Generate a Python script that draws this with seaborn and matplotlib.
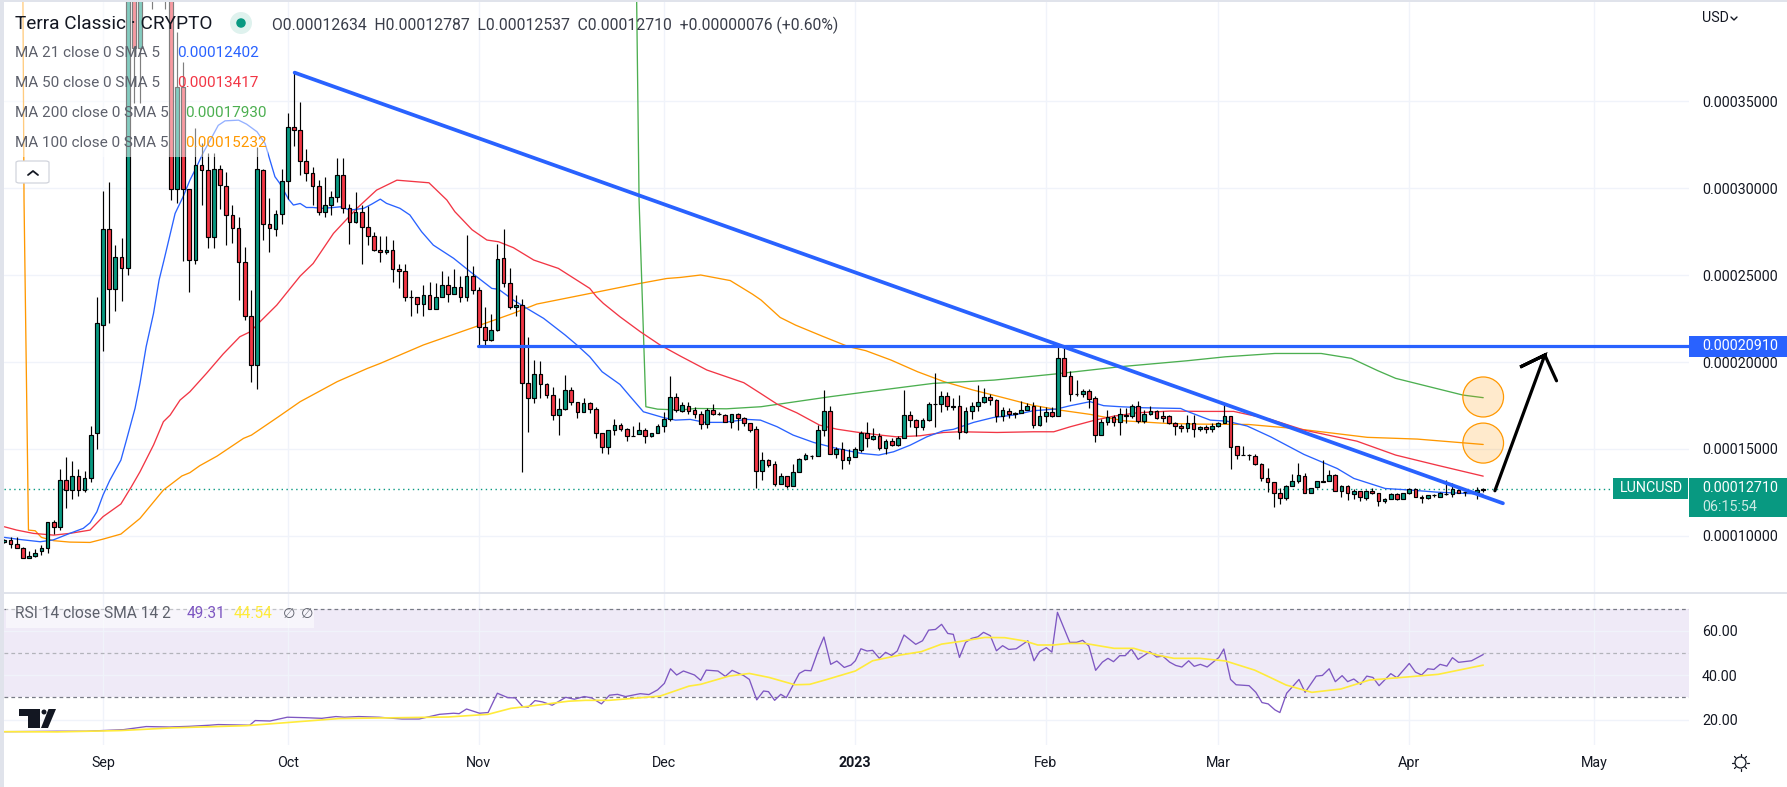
import numpy as np
import matplotlib
matplotlib.use('Agg')
import matplotlib.pyplot as plt
from matplotlib.patches import Rectangle, Ellipse, Polygon, FancyBboxPatch
from matplotlib.lines import Line2D
import seaborn as sns

# prices are in units of 0.00001, days are counted from 1 Sep 2022
first_day = -16

opens = [9.67,9.79,9.52,9.29,8.71,8.83,9.11,9.29,10.78,10.49,13.20,12.62,13.43,12.62,13.31,15.90,
22.11,27.62,24.18,26.01,25.38,42,38.02,42,46,48,46,44,29.97,35.78,29.97,25.89,31.32,31.01,27.2,31.12,
30.09,28.42,27.68,25.73,22.62,19.81,31.01,27.91,27.62,28.48,30.38,33.48,33.31,31.58,30.89,30.09,28.6,29.0,
29.51,30.72,28.83,28.02,28.6,27.77,27.22,26.41,26.3,26.41,25.32,25.21,23.71,23.71,23.31,23.87,23.03,23.71,
24.4,23.89,24.29,23.71,24.92,24.12,21.99,21.24,21.82,25.96,24.52,23.14,23.26,18.77,17.91,19.29,18.71,18.08,
16.93,17.28,18.37,17.68,17.1,17.62,17.28,15.9,15.09,16.07,16.36,16.13,15.76,15.84,16.07,15.76,15.9,16.3,
16.7,17.97,17.2,17.5,17.22,17.04,16.41,17.22,17.01,16.97,16.57,16.99,16.76,16.47,16.13,13.75,14.34,14.11,
13.0,13.44,12.89,13.65,14.4,14.6,14.57,16.07,17.16,14.69,14.98,14.34,14.52,14.96,15.9,15.6,15.72,15.03,
15.47,15.24,15.66,16.93,16.64,16.28,16.64,17.6,17.6,18.02,17.49,17.45,15.99,17.16,17.5,17.68,17.96,17.79,
16.87,17.16,17.0,17.05,17.27,17.5,16.36,16.87,17.1,16.91,20.21,19.17,18.14,18.14,18.33,17.91,15.82,16.53,
16.82,16.53,16.9,16.9,17.45,16.62,16.99,17.16,16.87,16.87,16.47,16.3,16.18,16.47,16.13,16.24,16.13,16.3,
16.47,16.87,15.15,14.67,14.67,14.61,14.15,13.31,13.08,12.48,12.2,12.89,13.17,13.46,12.45,12.83,13.18,13.18,
13.48,12.6,12.87,12.43,12.56,12.2,12.56,12.45,11.99,12.14,12.39,12.14,12.45,12.68,12.27,12.16,12.33,12.25,
12.43,12.39,12.66,12.5,12.54,12.5,12.634]
highs = [9.84,9.92,9.92,9.38,9.13,9.23,9.48,10.78,10.92,13.85,14.54,14.31,13.85,13.73,16.32,23.73,
29.85,30.32,26.72,27.13,44,44,44,48,50,50,47,46,38.98,37.26,29.97,33.42,32.56,31.99,31.99,31.32,
30.93,29.02,28.35,26.61,24.14,32.37,31.1,29.4,28.73,31.12,34.29,36.62,34.96,32.24,31.22,30.45,30.61,29.84,
31.7,31.7,29.1,29.78,29.02,28.96,27.48,27.23,27.23,26.99,25.63,25.63,24.14,23.75,24.42,24.58,24.52,25.25,
24.94,25.34,24.94,27.30,25.52,24.29,23.14,22.76,26.78,27.64,25.38,23.85,23.6,21.42,20.11,20.06,18.77,18.54,
17.91,19.25,18.54,17.68,17.91,17.72,17.39,15.9,16.09,16.72,16.47,16.18,16.32,16.57,16.18,15.93,16.41,17.1,
19.19,18.2,17.68,17.68,17.43,17.2,17.33,17.58,17.1,17.04,17.02,17.08,16.82,16.47,16.32,14.8,14.4,14.32,
13.6,13.46,14.13,14.46,14.75,14.63,16.37,18.39,17.47,15.13,15.38,14.98,15.09,16.05,16.58,16.18,15.93,15.57,
15.61,15.74,18.39,17.18,16.74,16.76,17.68,19.36,18.35,18.29,17.91,18.1,17.39,17.72,18.67,18.48,18.16,17.85,
17.43,17.33,17.12,17.77,17.62,17.7,17.47,17.39,17.43,21.07,20.84,19.5,18.96,18.44,18.44,18.04,16.7,17.24,
16.95,17.37,17.33,17.58,17.75,17.24,17.47,17.27,17.18,16.95,16.57,16.43,16.95,16.95,16.32,16.37,16.47,16.55,
17.58,16.87,15.17,15.17,14.71,14.71,14.17,13.88,13.12,12.73,12.93,13.54,14.17,13.63,12.77,13.17,14.36,13.79,
13.54,12.93,12.93,12.68,12.6,12.64,12.77,12.45,12.18,12.45,12.48,12.48,12.73,12.73,12.33,12.37,12.41,12.54,
13.19,13.02,12.7,12.58,12.58,12.8,12.787]
lows = [9.58,9.33,9.29,8.71,8.71,8.81,8.90,9.04,10.11,10.34,11.63,12.14,12.31,12.55,13.12,15.02,
20.65,22.26,22.95,23.52,25.01,34.86,34.86,41.2,40.3,42,40.3,29.3,29.15,25.8,24.04,25.66,29.02,26.56,26.56,28.77,
26.72,26.85,23.56,22.41,18.87,18.47,27.01,26.33,27.25,27.92,29.34,32.41,30.74,30.4,29.02,28.44,28.35,28.44,
29.21,28.54,26.76,27.96,25.66,26.72,26.39,25.76,26.18,24.62,24.23,23.52,22.66,22.8,22.66,23.03,23.03,23.71,
23.47,23.89,23.47,23.52,23.91,20.92,20.92,21.22,21.8,24.29,23.06,22.66,13.69,16.0,17.62,17.93,17.95,16.66,
15.8,17.24,17.53,16.78,17.1,17.05,15.65,14.79,14.71,15.8,16.05,15.48,15.76,15.84,15.32,15.71,15.9,16.0,
16.63,17.14,17.14,17.04,16.8,16.13,16.18,16.95,16.95,16.57,16.22,16.09,16.32,16.0,12.77,13.21,13.98,12.89,
12.98,12.77,12.89,13.65,14.34,14.4,14.57,15.76,14.69,14.46,13.86,14.15,14.52,14.8,15.09,15.51,14.94,14.71,
15.2,15.17,15.66,16.24,15.76,16.09,16.6,16.28,17.14,17.24,17.27,15.59,15.9,16.72,17.2,17.62,17.52,16.57,
16.6,16.8,16.8,17.05,17.24,16.22,16.32,16.57,16.82,16.89,19.17,17.77,18.06,18.0,17.37,15.42,15.82,16.37,
16.32,15.8,16.47,16.76,16.51,16.51,16.95,16.7,16.57,16.43,15.8,15.97,15.97,15.7,16.05,15.9,15.99,16.24,
16.47,13.86,14.42,14.65,14.36,14.07,13.17,12.54,11.68,11.83,12.06,12.89,13.06,12.45,12.45,12.77,13.08,13.16,
12.6,12.25,12.06,12.1,12.02,12.06,12.41,11.74,11.91,12.1,12.08,12.12,12.43,12.22,11.91,12.14,12.24,12.22,
12.37,12.25,12.45,12.31,12.47,12.14,12.537]
closes = [9.79,9.52,9.29,8.71,8.83,9.00,9.29,10.78,10.49,13.20,12.62,13.43,12.62,13.31,15.78,22.22,
27.62,24.18,26.01,25.38,42,38.02,42,46,48,46,44,29.97,35.78,29.97,25.89,31.32,31.01,27.2,31.12,30.2,
28.42,27.68,25.72,22.62,19.81,31.12,27.91,27.68,28.48,30.38,33.48,33.31,31.58,30.89,30.09,28.6,29.0,29.51,
30.72,28.83,28.04,28.6,27.77,27.22,26.41,26.3,26.41,25.32,25.21,23.71,23.71,23.31,23.87,23.03,23.75,24.4,
23.89,24.29,23.71,24.92,24.12,21.99,21.24,21.82,25.90,24.52,23.18,23.26,18.77,17.91,19.29,18.71,18.08,16.93,
17.28,18.37,17.68,17.10,17.62,17.28,15.90,15.09,16.07,16.36,16.13,15.76,15.76,16.07,15.76,15.9,16.3,16.7,
17.97,17.24,17.52,17.2,17.04,16.41,17.22,17.04,17.0,16.57,16.99,16.76,16.47,16.1,13.75,14.34,14.09,13.0,
13.42,12.89,13.65,14.4,14.63,14.61,16.07,17.16,14.69,14.98,14.34,14.52,14.98,15.9,15.61,15.72,15.03,15.47,
15.24,15.66,16.93,16.64,16.28,16.64,17.56,17.6,18.02,17.5,17.41,15.99,17.16,17.5,17.68,17.96,17.79,16.87,
17.22,17.01,17.05,17.27,17.5,16.36,16.87,17.1,16.91,20.21,19.17,18.14,18.14,18.33,17.89,15.82,16.53,16.82,
16.53,16.99,16.97,17.45,16.62,16.99,17.16,16.8,16.8,16.47,16.3,16.18,16.47,16.13,16.24,16.13,16.3,16.47,
16.87,15.13,14.67,14.66,14.63,14.15,13.31,13.08,12.48,12.2,12.89,13.17,13.48,12.45,12.77,13.14,13.1,13.48,
12.6,12.87,12.45,12.58,12.22,12.56,12.45,11.99,12.14,12.39,12.14,12.45,12.68,12.25,12.16,12.33,12.35,12.47,
12.43,12.68,12.48,12.5,12.5,12.63,12.71]

ma21_days = [-16,-13.5,-10.2,-8.1,-5.4,-3.2,-2.1,-1,0,1.1,2.9,3.8,5.2,6,7,8.2,9.1,9.9,11.7,13,14.1,15.2,16.2,17.4,18.7,19.8,22,23.3,25,26.3,27.1,27.9,28.7,30.1,30.9,32,33,34.1,35.5,37.4,38.5,40.1,42.3,43.6,45,46,48.2,49.8,51.7,53.6,56.9,59.6,63.1,64.2,66.6,68.8,71.5,75,76.9,79,81,83.9,85.6,87.7,91,92.9,95.3,97.7,100.7,104.5,106.7,109.4,112,115.3,119.1,123,125.9,128.3,131,133.7,136.4,138,141.3,144.5,147.8,151,154.8,157,160.2,162.4,165.1,168.9,174.9,175.7,179.7,182.4,185.7,189.5,194.9,200.3,203,208.1,212.2,216.5,224]
ma21_vals = [9.92,9.8,9.67,9.77,10.15,10.44,10.76,11.39,12.35,13.2,14.36,15.51,17.34,18.77,20.88,22.8,24.71,25.86,28.54,29.5,30.45,31.22,31.99,32.75,33.6,33.86,33.9,33.67,33.23,32.56,31.6,30.65,30.26,29.36,29.02,29.11,28.88,28.88,28.83,28.88,28.92,28.73,28.83,29.07,29.36,29.12,28.83,28.45,27.49,26.72,25.96,25.19,24.23,24.18,23.56,23.08,22.51,21.55,20.98,20.3,19.44,18.71,18.0,17.14,16.8,16.66,16.7,16.53,16.53,16.7,16.66,16.28,15.8,15.38,15.03,14.75,14.65,14.84,15.22,15.7,16.05,16.13,16.53,16.81,16.95,17.2,17.3,17.49,17.72,17.49,17.43,17.37,17.33,17.2,16.66,16.6,16.32,15.7,14.69,13.88,13.31,12.73,12.64,12.52,12.4]

ma50_days = [-16,-14,-11.3,-8,-5.4,-2.1,0,2.9,4.6,6,8.2,9.8,10.9,12.5,14.1,16.8,19.5,22.2,23.9,25.5,28.2,32,34.1,37.4,41.2,44.4,47.7,52.9,55.8,57.1,59.9,62.3,64.2,66.6,69.9,73.9,79,80.1,81.2,83.9,87.2,90.4,93.7,98,104,106.7,109.4,112.6,116.3,119.1,122.3,126.1,128.8,132.6,136.4,139.1,145.1,151,154.3,157,161,164.1,167.8,173.2,178.6,183.5,189.5,194.9,203.5,209.8,216.5,224]
ma50_vals = [10.53,10.34,10.15,10.05,10.15,10.34,11.11,11.84,12.83,13.69,15.23,16.57,16.95,17.81,18.29,19.35,20.46,21.45,21.74,22.32,23.27,24.94,25.66,27.39,28.83,29.88,30.45,30.3,29.31,28.64,27.6,27.01,26.91,26.57,25.86,25.38,24.23,23.75,23.37,22.6,21.74,20.98,20.34,19.54,18.81,18.2,17.58,17.08,16.37,16.14,15.97,15.8,15.7,15.76,15.95,15.99,15.95,15.99,15.99,16.28,16.66,16.89,17.08,17.18,17.16,17.16,16.7,16.09,15.45,14.65,14.07,13.44]

ma100_days = [-13,-12.82,-12.1,-11,-10,-8,-5.4,-2.1,0,2.9,6,9.8,12.8,14.1,15.7,18.5,22.8,24.1,28.5,32,38,42.9,45,52,61.2,66.6,70.4,79.6,87.2,91.5,93.7,97,101.8,105.4,106.8,109.9,112.4,116.7,121,123.8,127.9,132.2,136.5,141.2,145.9,150.8,155.2,160.2,165.7,172.6,178,185.9,193.3,205.2,213.3,224]
ma100_vals = [41,29.31,10.34,10.3,9.92,9.73,9.65,9.63,9.82,10.11,11.01,12.64,13.45,13.64,14.04,14.59,15.61,15.8,16.86,17.72,18.87,19.63,19.92,20.98,22.12,22.8,23.33,23.98,24.52,24.8,24.86,25.0,24.68,23.9,23.56,22.56,22.12,21.49,20.88,20.65,20.11,19.44,18.87,18.39,17.97,17.52,17.24,16.99,16.62,16.47,16.43,16.41,16.18,15.67,15.57,15.26]

ma200_days = [86.6,87,88.1,90,93.7,96.2,101.2,106.8,117.9,124.1,134.7,144.6,154.5,165.1,175.9,182.2,190.2,197.7,202.6,206.9,209.8,215.7,220.7,224]
ma200_vals = [41,29.31,17.43,17.29,17.24,17.33,17.31,17.43,18.0,18.29,18.77,18.96,19.31,19.73,20.07,20.3,20.49,20.49,20.21,19.5,19.06,18.54,18.1,17.95]

rsi_days = [-16,-7.4,-2.7,3.3,7,10.8,14,17.3,18.7,23.8,24.7,27.1,29.9,32.7,35.5,37.8,39.2,41.5,44.8,48.5,51.3,54.6,55.5,56.9,57.8,59,61.1,62.5,64,65.7,66.9,68.1,69,70.1,71.3,72.9,75.1,76.5,78.1,79.3,80.9,82.2,83.5,84.8,87.2,88.6,90,91.1,92.1,93.1,94.2,96,97,97.9,99.8,101,102.1,104,104.9,106.1,107.2,108,109,110,110.9,113,113.9,114.9,116.1,117,118.1,119.1,120.3,121.4,122.1,123,124,124.9,126,127,128,128.9,130,131.9,133,134,135.1,136.1,137.1,138,139,140,141,142,142.9,144,145,146,147,148.2,150.1,151.1,152,153.1,154,154.9,156.9,158,159,160,161.1,162.2,163.1,164,165,165.9,166.9,168,169.9,171,172,173.1,174.1,175.1,176.2,177.1,178.1,179.2,181.1,181.9,183,183.9,186,187.1,188.1,189.1,190.2,191,192.1,194.1,195.1,196.9,197.9,199,200,201.1,202,203,204.1,205.1,206.1,207.1,209,210,212,213,214,215,216,217,218.1,219,220,222.1,224]
rsi_vals = [14.6,14.8,14.8,15.5,16.9,16.7,17.0,17.5,17.8,17.5,19.6,19.4,21.1,20.9,20.6,21.4,21.1,21.4,21.1,20.3,20.3,22.4,22.6,22.9,22.7,24.8,22.9,23.2,31.9,29.9,29.8,25.9,25.6,28.6,28.0,26.5,30.05,29.2,30.4,29.8,27.1,31.0,31.4,30.4,31.7,31.3,33.4,36.3,42.9,40.1,41.9,40.1,37.7,42.3,41.9,39.5,42.2,39.8,38.1,28.9,32.9,32.6,28.7,31.4,29.9,40.8,42.2,42.0,51.3,57.2,44.9,46.4,43.5,44.6,46.5,51.9,50.9,51.2,47.6,50.3,48.9,50.9,58.1,53.9,55.5,60.3,60.6,62.9,58.8,58.4,48.0,54.8,56.6,57.3,59.3,57.8,51.0,53.3,51.6,51.9,55.5,46.5,50.6,52.4,50.4,68.3,54.8,54.8,55.7,53.1,42.2,45.9,47.6,46.1,48.8,48.8,51.8,47.1,50.6,48.2,48.6,45.9,44.4,43.7,46.5,44.0,44.9,43.7,48.0,51.8,38.1,35.7,35.3,32.3,27.7,27.1,24.4,23.2,31.9,38.1,32.3,39.6,39.9,42.9,37.1,39.8,37.1,38.3,35.9,39.6,39.0,35.3,40.7,38.9,45.3,41.4,40.1,42.9,42.6,44.9,44.1,47.9,45.8,46.5,49.31]

rsi_ma_days = [-16,-7.4,2.9,11.2,23.3,29.9,38.3,48.5,56,62.5,66.2,69.9,75.5,78.3,82.1,90.4,95.1,97,101.6,104.9,108.1,112.3,114.7,117.5,122.1,124.9,129.4,132.8,136.1,138.9,143.1,146.35,149.6,151.7,154.3,156.6,159.4,164.1,167.3,171,173.8,178,182.2,186.9,189.2,192,196.2,200.9,205.5,211.6,216.7,224]
rsi_ma_vals = [14.6,14.5,15.1,16.3,17.3,18.7,20.5,20.9,21.2,22.4,25.1,26.3,28.3,28.7,28.7,30.6,35.1,35.9,39.6,40.8,39.0,35.7,35.9,38.1,41.9,46.5,49.1,50.6,54.0,55.1,57.0,56.9,55.4,53.6,53.6,54.3,54.3,52.1,52.1,49.1,47.6,47.6,46.4,42.3,39.3,35.6,32.3,33.8,37.8,39.2,40.4,44.54]

trend_days = [31.1, 227.2]
trend_vals = [36.63, 11.88]
level_days = [60.9, 257.4]
level_vals = [20.91, 20.91]
arrow_days = [225.9, 234, 230, 234, 235.9]
arrow_vals = [12.6, 20.4, 19.71, 20.4, 18.92]
circle_days = [224, 224]
circle_vals = [17.99, 15.34]

month_days = [0, 30, 61, 91, 122, 153, 181, 212, 242]
month_labels = ['Sep', 'Oct', 'Nov', 'Dec', '2023', 'Feb', 'Mar', 'Apr', 'May']
price_ticks = [10, 15, 20, 25, 30, 35]
rsi_ticks = [20, 40, 60]
last_price = 12.71

ink = '#131722'
grey = '#5d606b'
green = '#089981'
red = '#f23645'
blue = '#2962ff'
grid = '#f0f3fa'
W, H = 1787, 787

sns.set_theme(style='white')
plt.rcParams['font.family'] = ['Roboto', 'DejaVu Sans']
plt.rcParams['font.size'] = 10.3

fig = plt.figure(figsize=(W / 100, H / 100), dpi=100, facecolor='white')


def fx(x):
    return x / W


def fy(y):
    return 1 - y / H


def box(x0, y0, x1, y1, color, **kw):
    fig.add_artist(Rectangle((fx(x0), fy(y1)), (x1 - x0) / W, (y1 - y0) / H,
                             transform=fig.transFigure, facecolor=color, edgecolor='none', **kw))


def label(x, y, s, color=ink, size=10.3, **kw):
    kw.setdefault('va', 'center')
    fig.text(fx(x), fy(y), s, color=color, fontsize=size, **kw)


def stroke(xs, ys, color=ink, lw=1.2):
    fig.add_artist(Line2D([fx(v) for v in xs], [fy(v) for v in ys], color=color, lw=lw,
                          solid_capstyle='round', transform=fig.transFigure))


ax = fig.add_axes([fx(4), fy(593), (1689 - 4) / W, (593 - 2) / H])
ax_rsi = fig.add_axes([fx(4), fy(745), (1689 - 4) / W, (745 - 593) / H])

days = np.arange(first_day, first_day + len(opens))
opens, highs, lows, closes = map(np.array, (opens, highs, lows, closes))
colors = np.where(closes >= opens, green, red)

# moving averages
for xs, ys, col in [(ma100_days, ma100_vals, '#ff9800'), (ma200_days, ma200_vals, '#4caf50'),
                    (ma50_days, ma50_vals, red), (ma21_days, ma21_vals, '#2962ff')]:
    sns.lineplot(x=xs, y=ys, ax=ax, color=col, linewidth=0.95, sort=False, estimator=None, zorder=2)

ax.axhline(last_price, color=green, lw=1, ls=(0, (1, 2.5)), zorder=1)

# candles
ax.vlines(days, lows, highs, color='black', lw=0.85, zorder=3)
ax.bar(days, closes - opens, bottom=opens, width=0.6, color=colors, edgecolor='black', linewidth=0.85, zorder=4)

# drawings
sns.lineplot(x=trend_days, y=trend_vals, ax=ax, color=blue, linewidth=2.7, sort=False, estimator=None, zorder=5)
sns.lineplot(x=level_days, y=level_vals, ax=ax, color=blue, linewidth=2.3, sort=False, estimator=None, zorder=5)
for cx, cy in zip(circle_days, circle_vals):
    ax.add_patch(Ellipse((cx, cy), 6.6, 2.3, facecolor='#ff9800', alpha=0.2, edgecolor='none', zorder=5))
    ax.add_patch(Ellipse((cx, cy), 6.6, 2.3, facecolor='none', edgecolor='#ff9800', lw=0.9, zorder=5))
ax.plot(arrow_days, arrow_vals, color='black', lw=2.3, solid_capstyle='round', solid_joinstyle='miter', zorder=6)

xlim = (-16.07, 257.4)
ax.set_xlim(xlim)
ax.set_ylim(6.724, 40.69)
ax.set_xticks(month_days)
ax.tick_params(axis='x', length=0, labelbottom=False)
ax.yaxis.tick_right()
ax.set_yticks(price_ticks)
ax.set_yticklabels([f'{v * 1e-5:.8f}' for v in price_ticks])
ax.tick_params(axis='y', length=0, pad=9.4, labelsize=10.3, labelcolor=ink)
ax.grid(True, color=grid, lw=1)
ax.set_axisbelow(True)
for s in ax.spines.values():
    s.set_visible(False)

# RSI pane
ax_rsi.axhspan(30, 70, color='#7e57c2', alpha=0.12, lw=0, zorder=0)
for lvl, col in [(70, '#787b86'), (50, '#b2b3ba'), (30, '#787b86')]:
    ax_rsi.axhline(lvl, color=col, lw=0.9, ls=(0, (3, 2.5)), zorder=1)
sns.lineplot(x=rsi_days, y=rsi_vals, ax=ax_rsi, color='#7e57c2', linewidth=0.95, sort=False, estimator=None, zorder=3)
sns.lineplot(x=rsi_ma_days, y=rsi_ma_vals, ax=ax_rsi, color='#ffeb3b', linewidth=1.2, sort=False, estimator=None, zorder=4)
ax_rsi.set_xlim(xlim)
ax_rsi.set_ylim(8.6, 77)
ax_rsi.set_xticks(month_days)
ax_rsi.set_xticklabels(month_labels)
ax_rsi.get_xticklabels()[4].set_fontweight('bold')
ax_rsi.tick_params(axis='x', length=0, pad=8, labelsize=10.3, labelcolor=ink)
ax_rsi.yaxis.tick_right()
ax_rsi.set_yticks(rsi_ticks)
ax_rsi.set_yticklabels([f'{v:.2f}' for v in rsi_ticks])
ax_rsi.tick_params(axis='y', length=0, pad=9.4, labelsize=10.3, labelcolor=ink)
ax_rsi.grid(True, color=grid, lw=1)
ax_rsi.set_axisbelow(True)
for s in ax_rsi.spines.values():
    s.set_visible(False)

# frame of the widget
box(0, 0, 4, H, '#e0e3eb')
box(0, 0, W, 2, '#e0e3eb')
box(4, 592.4, W, 593.8, '#e0e3eb')

# legend over the candles
box(4, 2, 268, 157, 'white', alpha=0.5)
label(15, 24, 'Terra Classic · CRYPTO', size=13.7)
fig.add_artist(Ellipse((fx(241), fy(23)), 22 / W, 22 / H, transform=fig.transFigure, facecolor='#dff2ee', edgecolor='none'))
fig.add_artist(Ellipse((fx(241), fy(23)), 9.5 / W, 9.5 / H, transform=fig.transFigure, facecolor=green, edgecolor='none'))
label(272, 25, 'O0.00012634  H0.00012787  L0.00012537  C0.00012710  +0.00000076 (+0.60%)', color='#3a3e4a', size=11.3)
ma_rows = [('MA 21 close 0 SMA 5', '0.00012402', '#2962ff', 177, 53),
           ('MA 50 close 0 SMA 5', '0.00013417', red, 177, 83),
           ('MA 200 close 0 SMA 5', '0.00017930', '#4caf50', 185.5, 113),
           ('MA 100 close 0 SMA 5', '0.00015232', '#ff9800', 185.5, 143)]
for name, val, col, vx, vy in ma_rows:
    label(15, vy, name, color=grey, size=11)
    label(vx, vy, val, color=col, size=11)
fig.add_artist(FancyBboxPatch((fx(16), fy(183)), 33 / W, 22 / H, boxstyle='round,pad=0,rounding_size=0.002',
                              transform=fig.transFigure, facecolor='white', edgecolor='#d1d4dc', lw=0.9))
stroke([28, 33, 38], [175, 171, 175], lw=1.3)

# RSI legend
box(6, 607, 314, 628, 'white', alpha=0.55)
label(15, 614, 'RSI 14 close SMA 14 2', color=grey, size=11.2)
label(187, 614, '49.31', color='#7e57c2', size=11.2)
label(234, 614, '44.54', color='#ffeb3b', size=11.2)
label(283, 614, '∅', color=grey, size=10.3)
label(301, 614, '∅', color=grey, size=10.3)

# price scale labels
label(1702, 18, 'USD', size=10.3)
stroke([1731, 1734, 1737], [17, 20, 17], lw=1)
box(1689, 336, W, 357, blue)
label(1702, 346.5, '0.00020910', color='white')
box(1613, 478, 1688, 499, green)
label(1620, 488.5, 'LUNCUSD', color='white')
box(1689, 478, W, 517, green)
label(1702, 488.5, '0.00012710', color='white')
label(1702, 507, '06:15:54', color='#cdeae4')

# logo
logo = [[(19, 709), (40, 709), (40, 728), (28, 728), (28, 716), (19, 716)],
        [(56, 709), (48, 728), (41, 728), (48.5, 709)]]
for pts in logo:
    fig.add_artist(Polygon([(fx(a), fy(b)) for a, b in pts], transform=fig.transFigure, facecolor=ink, edgecolor='none'))
fig.add_artist(Ellipse((fx(44), fy(712)), 5 / W, 5 / H, transform=fig.transFigure, facecolor=ink, edgecolor='none'))

# theme icon
fig.add_artist(Ellipse((fx(1740.5), fy(762.5)), 11 / W, 11 / H, transform=fig.transFigure, facecolor='none', edgecolor=ink, lw=0.9))
for a in np.deg2rad([0, 45, 90, 135, 180, 225, 270, 315]):
    stroke([1740.5 + 6.5 * np.cos(a), 1740.5 + 8.5 * np.cos(a)], [762.5 + 6.5 * np.sin(a), 762.5 + 8.5 * np.sin(a)], lw=0.9)

fig.savefig('out.png', dpi=100)
